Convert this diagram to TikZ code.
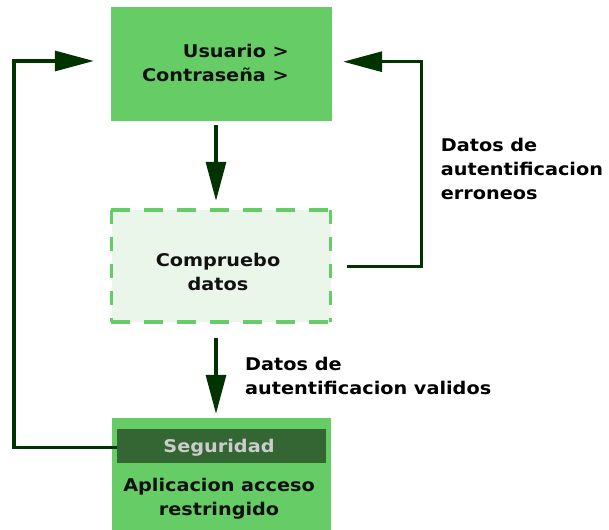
\documentclass[tikz,border=0pt]{standalone}
\usepackage{fontspec}
\setmainfont{DejaVu Sans}[FakeStretch=1.1]
\usetikzlibrary{arrows.meta,calc}
\definecolor{boxgreen}{HTML}{66CC66}
\definecolor{lightfill}{HTML}{EAF6EA}
\definecolor{bardark}{HTML}{336633}
\definecolor{arrowdark}{HTML}{003300}
\definecolor{segtext}{HTML}{CCCCCC}
\definecolor{boxtext}{HTML}{111111}
\begin{document}
\begin{tikzpicture}[x=1pt,y=-1pt,
  every node/.style={font=\fontsize{17.5}{24}\selectfont\bfseries},
  solidbox/.style={rectangle,fill=boxgreen,draw=none,inner sep=0pt},
  checkbox/.style={rectangle,fill=lightfill,draw=none,inner sep=0pt},
  barbox/.style={rectangle,fill=bardark,draw=none,inner sep=0pt},
  boxlabel/.style={inner sep=0pt,text=boxtext},
  flowlabel/.style={inner sep=0pt,align=left,text=black},
  conn/.style={draw=arrowdark,line width=3.2pt,line join=miter},
  arr/.style={conn,-{Triangle[length=39pt,width=20pt]}},
  dashh/.style={draw=boxgreen,line width=3.5pt,dash pattern=on 19pt off 14pt},
  dashv/.style={draw=boxgreen,line width=3.5pt,dash pattern=on 14pt off 13pt}
]
\useasboundingbox (0,0) rectangle (609,529);

% boxes
\node[solidbox,minimum width=221pt,minimum height=114pt] (top) at (221.5,64) {};
\node[checkbox,minimum width=219pt,minimum height=112pt] (chk) at (221,266) {};
\node[solidbox,minimum width=219.5pt,minimum height=122pt] (bot) at (221.5,479) {};
\node[barbox,minimum width=208.5pt,minimum height=34pt] (bar) at (221.5,446.3) {};

% dashed border of the check box
\draw[dashh] (chk.north west) -- (chk.north east);
\draw[dashh] (chk.south west) -- (chk.south east);
\draw[dashv] (chk.north west) -- (chk.south west);
\draw[dashv] (chk.north east) -- (chk.south east);

% texts (base anchor = baseline of the last line)
\node[boxlabel,align=right,anchor=base east] (toptext) at (289,82) {Usuario >\\Contraseña >};
\node[boxlabel,align=center,anchor=base] (chktext) at (218,290) {Compruebo\\datos};
\node[inner sep=0pt,text=segtext,anchor=base] (bartext) at (219,452.7) {Seguridad};
\node[boxlabel,align=center,anchor=base] (bottext) at (219,515.5) {Aplicacion acceso\\restringido};

\node[flowlabel,anchor=base west] (errlabel) at (440.7,200) {Datos de\\autentificacion\\erroneos};
\node[flowlabel,anchor=base west] (oklabel) at (245,394) {Datos de\\autentificacion validos};

% helper coordinates for the loop-back lines
\coordinate (rcx) at (421.5,0);
\coordinate (lcx) at (14,0);

% connectors
\draw[arr] ($(top.south)+(-5.5,4)$) -- ($(chk.north)+(-5,-9)$);
\draw[arr] ($(chk.south)+(-5,16)$) -- ($(bot.north)+(-5.5,-4)$);
\coordinate (rs) at ($(chk.east)+(16.7,0.7)$);
\draw[arr] (rs) -- (rs -| rcx) |- ($(top.east)+(11,-2.3)$);
\coordinate (ls) at ($(bar.west)+(0,1.5)$);
\draw[arr] (ls) -- (ls -| lcx) |- ($(top.west)+(-17,-3)$);
\end{tikzpicture}
\end{document}
